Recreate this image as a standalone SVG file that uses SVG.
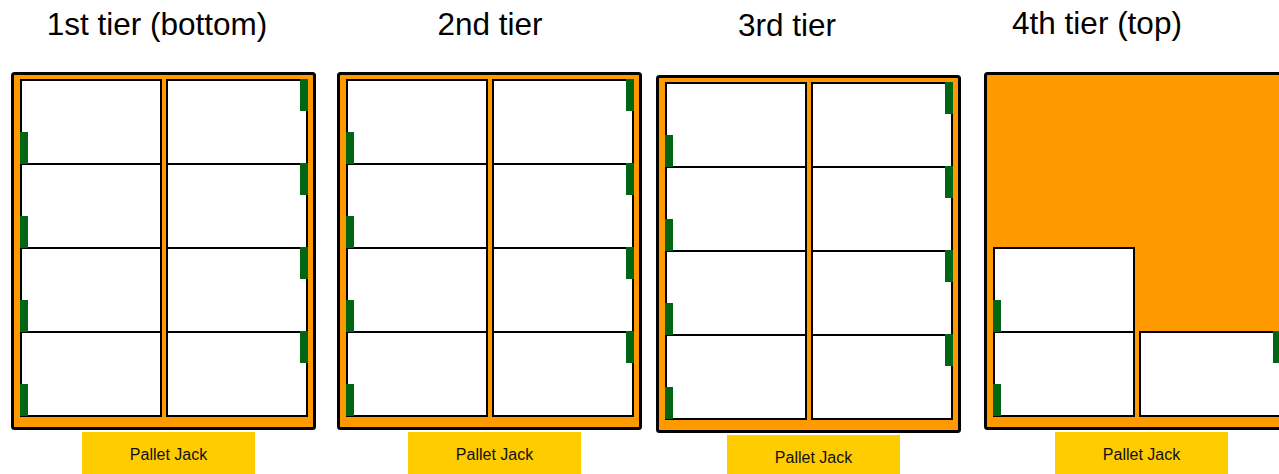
<svg xmlns="http://www.w3.org/2000/svg" width="1279" height="474" viewBox="0 0 1279 474">
<style>
.frame{fill:#FF9900;stroke:#000;stroke-width:3}
.box{fill:#fff;stroke:#000;stroke-width:2}
.grn{fill:#006614}
.jack{fill:#FFCC00}
.title{font-family:"Liberation Sans",Arial,sans-serif;font-size:31.5px;fill:#000;text-anchor:middle}
.jt{font-family:"Liberation Sans",Arial,sans-serif;font-size:16px;fill:#111;text-anchor:middle}
</style>
<rect width="1279" height="474" fill="#fff"/>
<g id="connectors"></g>

<g id="tier1">
<text class="title" x="157" y="35">1st tier (bottom)</text>
<rect class="frame" x="12.5" y="73.5" width="302" height="355" rx="2"/>
<rect class="box" x="21" y="80" width="140" height="84"/>
<rect class="box" x="21" y="164" width="140" height="84"/>
<rect class="box" x="21" y="248" width="140" height="84"/>
<rect class="box" x="21" y="332" width="140" height="84"/>
<rect class="box" x="167" y="80" width="140" height="84"/>
<rect class="box" x="167" y="164" width="140" height="84"/>
<rect class="box" x="167" y="248" width="140" height="84"/>
<rect class="box" x="167" y="332" width="140" height="84"/>
<rect class="grn" x="20" y="132" width="8" height="32"/>
<rect class="grn" x="20" y="216" width="8" height="32"/>
<rect class="grn" x="20" y="300" width="8" height="32"/>
<rect class="grn" x="20" y="384" width="8" height="32"/>
<rect class="grn" x="300" y="79" width="8" height="32"/>
<rect class="grn" x="300" y="163" width="8" height="32"/>
<rect class="grn" x="300" y="247" width="8" height="32"/>
<rect class="grn" x="300" y="331" width="8" height="32"/>
<rect class="jack" x="82" y="432" width="173" height="42"/>
<text class="jt" x="168.5" y="460">Pallet Jack</text>
</g>

<g id="tier2" transform="translate(326,0)">
<text class="title" x="164" y="35">2nd tier</text>
<rect class="frame" x="12.5" y="73.5" width="302" height="355" rx="2"/>
<rect class="box" x="21" y="80" width="140" height="84"/>
<rect class="box" x="21" y="164" width="140" height="84"/>
<rect class="box" x="21" y="248" width="140" height="84"/>
<rect class="box" x="21" y="332" width="140" height="84"/>
<rect class="box" x="167" y="80" width="140" height="84"/>
<rect class="box" x="167" y="164" width="140" height="84"/>
<rect class="box" x="167" y="248" width="140" height="84"/>
<rect class="box" x="167" y="332" width="140" height="84"/>
<rect class="grn" x="20" y="132" width="8" height="32"/>
<rect class="grn" x="20" y="216" width="8" height="32"/>
<rect class="grn" x="20" y="300" width="8" height="32"/>
<rect class="grn" x="20" y="384" width="8" height="32"/>
<rect class="grn" x="300" y="79" width="8" height="32"/>
<rect class="grn" x="300" y="163" width="8" height="32"/>
<rect class="grn" x="300" y="247" width="8" height="32"/>
<rect class="grn" x="300" y="331" width="8" height="32"/>
<rect class="jack" x="82" y="432" width="173" height="42"/>
<text class="jt" x="168.5" y="460">Pallet Jack</text>
</g>

<g id="tier3" transform="translate(645,3)">
<text class="title" x="142" y="33">3rd tier</text>
<rect class="frame" x="12.5" y="73.5" width="302" height="355" rx="2"/>
<rect class="box" x="21" y="80" width="140" height="84"/>
<rect class="box" x="21" y="164" width="140" height="84"/>
<rect class="box" x="21" y="248" width="140" height="84"/>
<rect class="box" x="21" y="332" width="140" height="84"/>
<rect class="box" x="167" y="80" width="140" height="84"/>
<rect class="box" x="167" y="164" width="140" height="84"/>
<rect class="box" x="167" y="248" width="140" height="84"/>
<rect class="box" x="167" y="332" width="140" height="84"/>
<rect class="grn" x="20" y="132" width="8" height="32"/>
<rect class="grn" x="20" y="216" width="8" height="32"/>
<rect class="grn" x="20" y="300" width="8" height="32"/>
<rect class="grn" x="20" y="384" width="8" height="32"/>
<rect class="grn" x="300" y="79" width="8" height="32"/>
<rect class="grn" x="300" y="163" width="8" height="32"/>
<rect class="grn" x="300" y="247" width="8" height="32"/>
<rect class="grn" x="300" y="331" width="8" height="32"/>
<rect class="jack" x="82" y="432" width="173" height="42"/>
<text class="jt" x="168.5" y="460">Pallet Jack</text>
</g>

<g id="tier4" transform="translate(973,0)">
<text class="title" x="124" y="34">4th tier (top)</text>
<rect class="frame" x="12.5" y="73.5" width="302" height="355" rx="2"/>
<rect class="box" x="21" y="248" width="140" height="84"/>
<rect class="box" x="21" y="332" width="140" height="84"/>
<rect class="box" x="167" y="332" width="140" height="84"/>
<rect class="grn" x="20" y="300" width="8" height="32"/>
<rect class="grn" x="20" y="384" width="8" height="32"/>
<rect class="grn" x="300" y="331" width="8" height="32"/>
<rect class="jack" x="82" y="432" width="173" height="42"/>
<text class="jt" x="168.5" y="460">Pallet Jack</text>
</g>
</svg>
